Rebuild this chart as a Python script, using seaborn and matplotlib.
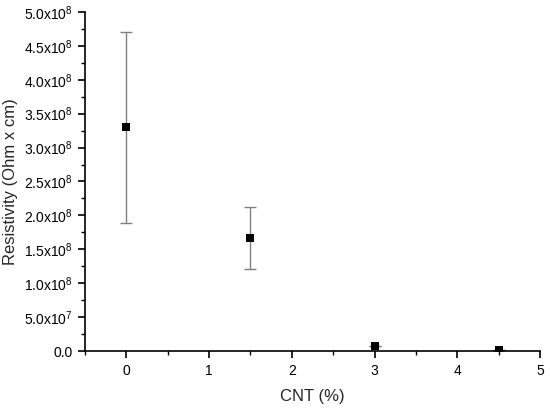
import matplotlib
matplotlib.use("Agg")
import matplotlib.pyplot as plt
import seaborn as sns
import numpy as np
import pandas as pd
from matplotlib.ticker import FuncFormatter, MultipleLocator

cnt = [0, 1.5, 3, 4.5]
resistivity = [3.30e8, 1.67e8, 0.07e8, 0.01e8]
err_low = [1.41e8, 0.46e8, 0.0, 0.0]
err_high = [1.41e8, 0.46e8, 0.0, 0.0]
xlabel = "CNT (%)"
ylabel = "Resistivity (Ohm x cm)"

df = pd.DataFrame({"cnt": cnt, "res": resistivity})

sns.set_style("ticks")
plt.rcParams['font.family'] = ['Liberation Sans', 'DejaVu Sans']
plt.rcParams['mathtext.fontset'] = 'custom'
plt.rcParams['mathtext.rm'] = 'Liberation Sans'
plt.rcParams['mathtext.it'] = 'Liberation Sans'

fig = plt.figure(figsize=(5.5, 4.08), dpi=100)
ax = fig.add_axes([0.1545, 0.1397, 0.8273, 0.8309])

ax.errorbar(cnt, resistivity, yerr=[err_low, err_high], fmt='none',
            ecolor='#808080', elinewidth=1.0, capsize=4, capthick=1.0, zorder=2)
sns.scatterplot(data=df, x="cnt", y="res", marker='s', color='black',
                s=38, edgecolor='black', linewidth=0, ax=ax, zorder=3)

ax.set_xlim(-0.5, 5)
ax.set_ylim(0, 5e8)
ax.xaxis.set_major_locator(MultipleLocator(1))
ax.xaxis.set_minor_locator(MultipleLocator(0.5))
ax.yaxis.set_major_locator(MultipleLocator(0.5e8))
ax.yaxis.set_minor_locator(MultipleLocator(0.25e8))

def yfmt(v, pos):
    if v == 0:
        return "0.0"
    e = int(np.floor(np.log10(abs(v)) + 1e-9))
    m = v / 10**e
    return f"{m:.1f}x10$^{{{e}}}$"

ax.yaxis.set_major_formatter(FuncFormatter(yfmt))
ax.xaxis.set_major_formatter(FuncFormatter(lambda v, p: f"{int(round(v))}"))

for s in ['top', 'right']:
    ax.spines[s].set_visible(False)
for s in ['left', 'bottom']:
    ax.spines[s].set_linewidth(1.2)
    ax.spines[s].set_color('black')

ax.tick_params(axis='both', which='major', direction='out', length=5, width=1.2,
               labelsize=10, colors='black', pad=4)
ax.tick_params(axis='both', which='minor', direction='out', length=3, width=1.0, colors='black')

ax.set_xlabel(xlabel, fontsize=12, labelpad=8)
ax.set_ylabel(ylabel, fontsize=12)
ax.yaxis.set_label_coords(-0.147, 0.5)

fig.savefig("out.png", dpi=100)
